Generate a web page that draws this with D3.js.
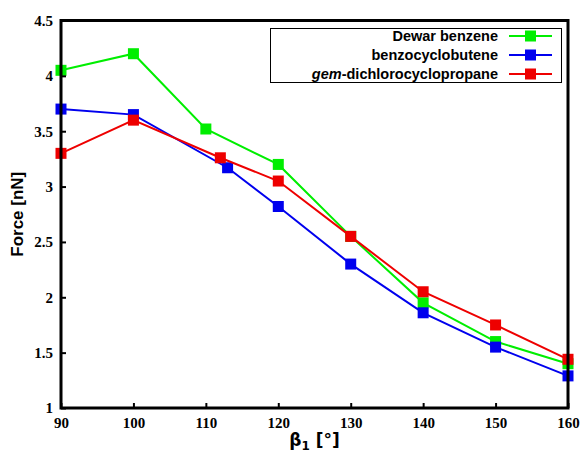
<!DOCTYPE html>
<html><head><meta charset="utf-8">
<script src="https://cdn.jsdelivr.net/npm/d3@7"></script>
<style>body{margin:0;background:#fff}svg{display:block}</style>
</head><body>
<script>
const seriesNames = ["Dewar benzene", "benzocyclobutene", "gem-dichlorocyclopropane"];
const colors = ["#00ee00", "#0000ee", "#ee0000"];
const dewarX = [90, 100, 110, 120, 130, 140, 150, 160];
const dewarY = [4.05, 4.2, 3.52, 3.2, 2.55, 1.95, 1.6, 1.4];
const benzoX = [90, 100, 113, 120, 130, 140, 150, 160];
const benzoY = [3.7, 3.65, 3.17, 2.82, 2.3, 1.86, 1.55, 1.29];
const gemX = [90, 100, 112, 120, 130, 140, 150, 160];
const gemY = [3.3, 3.6, 3.26, 3.05, 2.55, 2.05, 1.75, 1.44];
const xTicks = [90, 100, 110, 120, 130, 140, 150, 160];
const yTicks = [1, 1.5, 2, 2.5, 3, 3.5, 4, 4.5];

const W = 581, H = 454;
const m = {l: 61, r: 13, t: 20.5, b: 46};
const svg = d3.select("body").append("svg").attr("width", W).attr("height", H);
const x = d3.scaleLinear().domain([90, 160]).range([m.l, W - m.r]);
const y = d3.scaleLinear().domain([1, 4.5]).range([H - m.b, m.t]);

const series = [
  {name: seriesNames[0], xs: dewarX, ys: dewarY, c: colors[0]},
  {name: seriesNames[1], xs: benzoX, ys: benzoY, c: colors[1]},
  {name: seriesNames[2], xs: gemX, ys: gemY, c: colors[2]}
];
const line = d3.line().x(d => x(d[0])).y(d => y(d[1]));
const ms = 11;
series.forEach(s => {
  const pts = s.xs.map((v, i) => [v, s.ys[i]]);
  svg.append("path").attr("d", line(pts)).attr("fill", "none").attr("stroke", s.c).attr("stroke-width", 2);
  svg.selectAll(null).data(pts).enter().append("rect")
    .attr("x", d => x(d[0]) - ms / 2).attr("y", d => y(d[1]) - ms / 2)
    .attr("width", ms).attr("height", ms).attr("fill", s.c);
});

// axes
const tickFont = "'Liberation Serif', 'DejaVu Serif', serif";
const xAxis = svg.append("g").attr("transform", `translate(0,${H - m.b})`)
  .call(d3.axisBottom(x).tickValues(xTicks).tickSize(-5).tickPadding(9).tickFormat(d3.format("d")));
const yAxis = svg.append("g").attr("transform", `translate(${m.l},0)`)
  .call(d3.axisLeft(y).tickValues(yTicks).tickSize(-5).tickPadding(8).tickFormat(d => d));
[xAxis, yAxis].forEach(a => {
  a.select(".domain").remove();
  a.selectAll("line").attr("stroke", "#000").attr("stroke-width", 2);
  a.selectAll("text").attr("font-family", tickFont).attr("font-weight", "bold").attr("font-size", 15).attr("fill", "#000");
});
// frame
svg.append("rect").attr("x", m.l).attr("y", m.t).attr("width", W - m.l - m.r).attr("height", H - m.t - m.b)
  .attr("fill", "none").attr("stroke", "#000").attr("stroke-width", 3);

// axis titles
const xt = svg.append("text").attr("x", (m.l + W - m.r) / 2).attr("y", 446).attr("text-anchor", "middle")
  .attr("font-family", "'DejaVu Sans', sans-serif").attr("font-weight", "bold").attr("font-size", 17);
xt.append("tspan").text("β");
xt.append("tspan").attr("font-size", 12).attr("dy", 4).text("1");
xt.append("tspan").attr("dy", -4).text(" [°]");
svg.append("text").attr("transform", `translate(23,${(m.t + H - m.b) / 2}) rotate(-90)`).attr("text-anchor", "middle")
  .attr("font-family", "'Liberation Sans', Arial, sans-serif").attr("font-weight", "bold").attr("font-size", 17).text("Force [nN]");

// legend
const lg = svg.append("g");
lg.append("rect").attr("x", 270.5).attr("y", 28.5).attr("width", 291).attr("height", 54)
  .attr("fill", "#fff").attr("stroke", "#000").attr("stroke-width", 1);
series.forEach((s, i) => {
  const yy = 36 + i * 19;
  const t = lg.append("text").attr("x", 498).attr("y", yy + 5).attr("text-anchor", "end")
    .attr("font-family", "'Liberation Sans', Arial, sans-serif").attr("font-weight", "bold").attr("font-size", 14.5);
  if (i === 2) {
    t.append("tspan").attr("font-style", "italic").text("gem");
    t.append("tspan").text("-dichlorocyclopropane");
  } else t.text(s.name);
  lg.append("line").attr("x1", 509).attr("x2", 552).attr("y1", yy).attr("y2", yy).attr("stroke", s.c).attr("stroke-width", 2);
  lg.append("rect").attr("x", 530.5 - ms / 2).attr("y", yy - ms / 2).attr("width", ms).attr("height", ms).attr("fill", s.c);
});
</script>
</body></html>
